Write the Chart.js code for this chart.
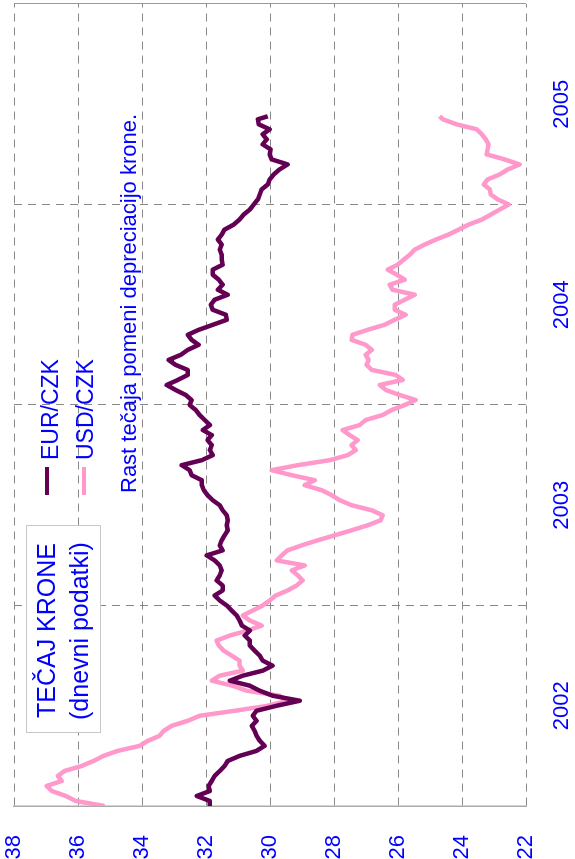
<!DOCTYPE html>
<html>
<head>
<meta charset="utf-8">
<script src="https://cdn.jsdelivr.net/npm/chart.js@4.4.1/dist/chart.umd.min.js"></script>
<style>
  html, body { margin: 0; padding: 0; background: #fff; overflow: hidden; }
  body { width: 575px; height: 859px; position: relative; font-family: Arial, "Liberation Sans", sans-serif; }
  /* the chart is built upright (859 x 575) and turned a quarter left */
  #wrap { position: absolute; left: 0; top: 859px; width: 859px; height: 575px; transform-origin: 0 0; transform: rotate(-90deg); }
  #chart { position: absolute; left: 0; top: 0; }
  .txt { position: absolute; color: #0000ff; white-space: nowrap; line-height: 1; }
  .box { position: absolute; left: 126px; top: 26px; width: 208px; height: 75px; box-sizing: border-box; border: 1.5px solid #c8c8c8; background: #fff; }
  .mark { position: absolute; height: 4px; width: 28px; left: 364px; }
</style>
</head>
<body>
<div id="wrap">
  <canvas id="chart" width="859" height="575"></canvas>
  <div class="box"></div>
  <div class="txt" style="left:141px; top:34px; font-size:25px;">TEČAJ KRONE</div>
  <div class="txt" style="left:139px; top:67px; font-size:25px;">(dnevni podatki)</div>
  <div class="mark" style="top:45px; background:#640054;"></div>
  <div class="txt" style="left:399px; top:39px; font-size:23px;">EUR/CZK</div>
  <div class="mark" style="top:82px; background:#ff99cc;"></div>
  <div class="txt" style="left:399px; top:74px; font-size:23px;">USD/CZK</div>
  <div class="txt" style="left:366px; top:118px; font-size:22px;">Rast tečaja pomeni depreciacijo krone.</div>
</div>
<script>
const BLUE = "#0000ff";
const EUR_COLOR = "#640054";
const USD_COLOR = "#ff99cc";
const GRID = "#888888";
const NONE = "rgba(0,0,0,0)";

// sample dates, decimal years
const dates = [
  2002.000, 2002.025, 2002.050, 2002.075, 2002.100, 2002.125, 2002.150, 2002.175,
  2002.200, 2002.225, 2002.250, 2002.275, 2002.300, 2002.325, 2002.350, 2002.375,
  2002.400, 2002.425, 2002.450, 2002.475, 2002.500, 2002.525, 2002.550, 2002.575,
  2002.600, 2002.625, 2002.650, 2002.675, 2002.700, 2002.725, 2002.750, 2002.775,
  2002.800, 2002.825, 2002.850, 2002.875, 2002.900, 2002.925, 2002.950, 2002.975,
  2003.000, 2003.025, 2003.050, 2003.075, 2003.100, 2003.125, 2003.150, 2003.175,
  2003.200, 2003.225, 2003.250, 2003.275, 2003.300, 2003.325, 2003.350, 2003.375,
  2003.400, 2003.425, 2003.450, 2003.475, 2003.500, 2003.525, 2003.550, 2003.575,
  2003.600, 2003.625, 2003.650, 2003.675, 2003.700, 2003.725, 2003.750, 2003.775,
  2003.800, 2003.825, 2003.850, 2003.875, 2003.900, 2003.925, 2003.950, 2003.975,
  2004.000, 2004.025, 2004.050, 2004.075, 2004.100, 2004.125, 2004.150, 2004.175,
  2004.200, 2004.225, 2004.250, 2004.275, 2004.300, 2004.325, 2004.350, 2004.375,
  2004.400, 2004.425, 2004.450, 2004.475, 2004.500, 2004.525, 2004.550, 2004.575,
  2004.600, 2004.625, 2004.650, 2004.675, 2004.700, 2004.725, 2004.750, 2004.775,
  2004.800, 2004.825, 2004.850, 2004.875, 2004.900, 2004.925, 2004.950, 2004.975,
  2005.000, 2005.025, 2005.050, 2005.075, 2005.100, 2005.125, 2005.150, 2005.175,
  2005.200, 2005.225, 2005.250, 2005.275, 2005.300, 2005.325, 2005.350, 2005.375,
  2005.400, 2005.425, 2005.440
];

const eurCzk = [
  31.88, 31.88, 32.29, 31.88, 31.92, 31.82, 31.73, 31.57,
  31.42, 31.32, 30.95, 30.42, 30.17, 30.32, 30.42, 30.48,
  30.57, 30.42, 30.54, 30.42, 29.79, 29.07, 29.92, 30.32,
  30.63, 31.26, 30.85, 30.23, 29.92, 30.23, 30.32, 30.48,
  30.63, 30.63, 30.79, 30.63, 30.88, 30.95, 31.04, 31.20,
  31.35, 31.57, 31.73, 31.48, 31.48, 31.67, 31.57, 31.51,
  31.57, 31.73, 31.98, 31.48, 31.57, 31.51, 31.42, 31.32,
  31.35, 31.32, 31.35, 31.48, 31.57, 31.79, 31.95, 32.07,
  32.13, 32.13, 32.45, 32.51, 32.76, 32.13, 31.79, 31.88,
  31.82, 31.95, 31.82, 32.10, 31.88, 32.04, 32.20, 32.32,
  32.51, 32.45, 32.63, 32.95, 33.23, 32.88, 32.57, 32.57,
  32.95, 33.17, 32.79, 32.57, 32.23, 32.45, 32.57, 32.23,
  31.79, 31.35, 31.38, 31.79, 31.85, 31.73, 31.32, 31.63,
  31.48, 31.60, 31.79, 31.79, 31.48, 31.51, 31.51, 31.57,
  31.51, 31.63, 31.51, 31.42, 31.13, 30.95, 30.82, 30.63,
  30.51, 30.38, 30.32, 30.26, 30.07, 30.01, 29.88, 29.70,
  29.45, 29.95, 30.01, 29.98, 30.23, 30.10, 30.23, 30.01,
  30.35, 30.38, 30.07
];

const usdCzk = [
  35.17, 36.07, 36.38, 36.82, 36.98, 36.51, 36.63, 36.42,
  35.88, 35.51, 35.20, 34.76, 34.07, 33.82, 33.45, 33.32,
  33.07, 32.57, 32.20, 31.10, 30.07, 29.45, 29.70, 30.73,
  31.17, 31.82, 31.57, 30.85, 30.95, 30.95, 31.20, 31.45,
  31.60, 31.67, 31.26, 30.70, 30.26, 30.63, 30.85, 30.54,
  30.23, 30.01, 29.82, 29.45, 29.17, 28.98, 29.13, 29.32,
  28.92, 29.79, 29.63, 29.45, 29.01, 28.51, 27.98, 27.45,
  26.95, 26.54, 26.48, 26.82, 27.45, 27.82, 28.07, 28.38,
  28.92, 28.60, 29.32, 29.95, 29.13, 28.13, 27.57, 27.32,
  27.45, 27.26, 27.51, 27.73, 27.20, 27.01, 26.48, 26.20,
  25.79, 25.45, 25.95, 26.38, 26.57, 25.85, 26.07, 26.82,
  26.98, 26.92, 27.01, 26.82, 27.01, 27.45, 27.42, 26.95,
  26.42, 26.10, 25.76, 26.10, 26.10, 25.79, 25.48, 26.17,
  26.26, 25.79, 26.04, 26.32, 26.01, 25.82, 25.63, 25.48,
  25.17, 24.82, 24.42, 24.10, 23.79, 23.38, 23.10, 22.82,
  22.54, 22.88, 23.10, 23.13, 23.32, 23.20, 22.82, 22.57,
  22.20, 22.67, 23.23, 23.20, 23.17, 23.26, 23.38, 23.54,
  24.17, 24.60, 24.70
];

const valueTicks = [22, 24, 26, 28, 30, 32, 34, 36, 38];
const yearLines = [2002, 2003, 2004, 2005, 2006];
const yearMids = [2002.5, 2003.5, 2004.5, 2005.5];
const yearLabels = ["2002", "2003", "2004", "2005"];

Chart.defaults.font.family = 'Arial, "Liberation Sans", sans-serif';

const toPoints = (vals) => vals.map((v, i) => ({ x: dates[i], y: v }));

new Chart(document.getElementById("chart"), {
  type: "line",
  data: {
    datasets: [
      { label: "EUR/CZK", data: toPoints(eurCzk), borderColor: EUR_COLOR, borderWidth: 4.5,
        pointRadius: 0, tension: 0, borderJoinStyle: "round", fill: false },
      { label: "USD/CZK", data: toPoints(usdCzk), borderColor: USD_COLOR, borderWidth: 4.5,
        pointRadius: 0, tension: 0, borderJoinStyle: "round", fill: false },
    ],
  },
  options: {
    responsive: false,
    animation: false,
    events: [],
    layout: { padding: { top: 14, right: 4, left: 0, bottom: 0 } },
    plugins: { legend: { display: false }, tooltip: { enabled: false } },
    scales: {
      x: {
        type: "linear",
        min: 2002,
        max: 2006,
        afterBuildTicks: (s) => {
          s.ticks = yearLines.concat(yearMids).sort((a, b) => a - b).map((v) => ({ value: v }));
        },
        afterFit: (s) => { s.height = 49; },
        ticks: {
          autoSkip: false,
          maxRotation: 0,
          padding: 0,
          color: BLUE,
          font: { size: 22 },
          callback: (v) => {
            const i = yearMids.indexOf(v);
            return i >= 0 ? yearLabels[i] : "";
          },
        },
        grid: {
          drawTicks: true,
          tickLength: 23,
          tickColor: NONE,
          lineWidth: 1,
          color: (ctx) => {
            const v = ctx.tick && ctx.tick.value;
            if (v === 2002 || yearMids.includes(v)) return NONE;
            return v === 2006 ? "#999999" : GRID;
          },
        },
        border: {
          display: false,
          dash: (ctx) => (ctx.tick && ctx.tick.value === 2006 ? [] : [8, 6]),
        },
      },
      y: {
        min: 22,
        max: 38,
        afterBuildTicks: (s) => { s.ticks = valueTicks.map((v) => ({ value: v })); },
        afterFit: (s) => { s.width = 53; },
        ticks: { padding: 0, color: BLUE, font: { size: 22 } },
        grid: { drawTicks: true, tickLength: 29, tickColor: NONE, color: GRID, lineWidth: 1 },
        border: { display: true, color: "#aaaaaa", width: 1.5, dash: [8, 6] },
      },
    },
  },
});
</script>
</body>
</html>
